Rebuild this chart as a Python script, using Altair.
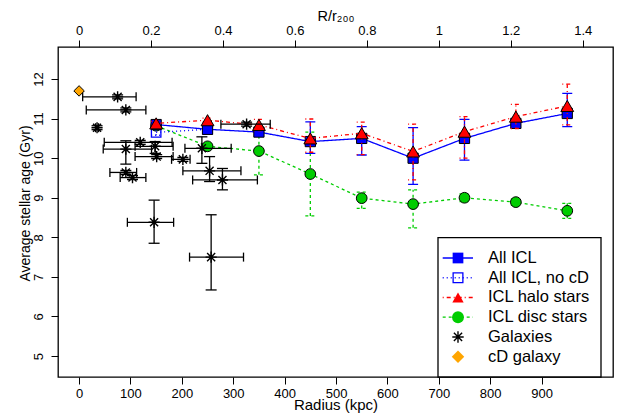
import altair as alt
import pandas as pd

# ICL radial bins (kpc) and mean stellar ages (Gyr)
radius = [150, 250, 350, 450, 550, 650, 750, 850, 950]

all_icl = [10.85, 10.73, 10.66, 10.42, 10.50, 10.00, 10.50, 10.88, 11.13]
all_icl_lo = [10.81, 10.69, 10.58, 10.12, 10.08, 9.34, 9.95, 10.78, 10.80]
all_icl_hi = [10.89, 10.77, 10.74, 10.92, 10.80, 10.77, 10.98, 10.98, 11.64]

nocd_radius = [150, 250]
nocd_age = [10.65, 10.73]
nocd_lo = [10.58, 10.69]
nocd_hi = [10.72, 10.77]

halo = [10.88, 10.96, 10.84, 10.50, 10.63, 10.17, 10.67, 11.05, 11.32]
halo_lo = [10.83, 10.91, 10.70, 10.15, 10.09, 9.45, 10.00, 10.75, 10.84]
halo_hi = [10.93, 11.01, 10.98, 10.99, 10.91, 10.86, 11.05, 11.36, 11.87]

disc = [10.82, 10.30, 10.18, 9.60, 8.99, 8.84, 9.00, 8.89, 8.67]
disc_lo = [10.77, 10.25, 9.58, 8.54, 8.73, 8.24, 8.90, 8.81, 8.48]
disc_hi = [10.87, 10.35, 10.78, 10.66, 9.14, 9.20, 9.10, 8.97, 8.86]

gal_radius = [75, 91, 35, 91, 119, 148, 151, 202, 239, 254, 279, 91, 104, 326, 146, 257]
gal_radius_lo = [7, 14, 32, 47, 49, 109, 109, 180, 206, 202, 221, 60, 80, 276, 94, 215]
gal_radius_hi = [111, 130, 38, 141, 181, 183, 183, 216, 296, 315, 347, 112, 130, 372, 184, 320]
gal_age = [11.55, 11.22, 10.77, 10.23, 10.40, 10.30, 10.04, 9.97, 10.25, 9.68, 9.45, 9.64, 9.51, 10.86, 8.38, 7.50]
gal_age_lo = [11.50, 11.17, 10.72, 9.85, 10.35, 10.12, 9.99, 9.92, 9.87, 9.41, 9.20, 9.59, 9.46, 10.81, 7.85, 6.67]
gal_age_hi = [11.60, 11.27, 10.82, 10.44, 10.45, 10.42, 10.09, 10.02, 10.54, 10.04, 9.74, 9.69, 9.56, 10.91, 8.94, 8.57]

cd_radius = [0]
cd_age = [11.70]

r200 = 700
top_ticks = [0, 0.2, 0.4, 0.6, 0.8, 1.0, 1.2, 1.4]

legend_labels = ['All ICL', 'All ICL, no cD', 'ICL halo stars', 'ICL disc stars',
                 'Galaxies', 'cD galaxy']

BLUE = '#0000FF'
RED = '#FF0000'
GREEN = '#00CD00'
ORANGE = '#FFA500'
ASTERISK = 'M-1,0H1M0,-1V1M-0.72,-0.72L0.72,0.72M-0.72,0.72L0.72,-0.72'
FONT = 'Liberation Sans'

x_scale = alt.Scale(domain=[-41, 1039], nice=False, zero=False)
y_scale = alt.Scale(domain=[4.47, 12.81], nice=False, zero=False)

x_bottom = alt.Axis(
    values=list(range(0, 1000, 100)), title='Radius (kpc)', titleFontSize=15,
    titleY=32, titleBaseline='alphabetic', labelPadding=3,
    labelFlush=False, labelOverlap=False
)
x_top = alt.Axis(
    orient='top', values=[t * r200 for t in top_ticks],
    labelExpr="format(datum.value / %d, '~g')" % r200,
    title='R/r₂₀₀', titleFontSize=14.5, titleY=-27, titleBaseline='alphabetic',
    labelPadding=3, labelFlush=False, labelOverlap=False
)
y_left = alt.Axis(
    values=list(range(5, 13)), title='Average stellar age (Gyr)', titleFontSize=14,
    labelAngle=270, labelAlign='center', labelBaseline='bottom', labelPadding=6,
    titleAngle=270, titleX=-29, titleY=156, titleAlign='center',
    titleBaseline='alphabetic', labelOverlap=False
)


def frame(r, a, lo, hi):
    return pd.DataFrame({'radius': r, 'age': a, 'lo': lo, 'hi': hi})


def series(df, color, dash, shape, size, xaxis=None, yaxis=None, open_marker=False):
    X = alt.X('radius:Q', scale=x_scale, axis=xaxis)
    Y = alt.Y('age:Q', scale=y_scale, axis=yaxis)
    base = alt.Chart(df)
    bars = base.mark_rule(color=color, strokeDash=dash, strokeWidth=1.3).encode(
        x=alt.X('radius:Q', scale=x_scale, axis=None),
        y=alt.Y('lo:Q', scale=y_scale, axis=None), y2='hi:Q'
    )
    caps = [
        base.mark_rule(color=color, strokeDash=dash, strokeWidth=1.3,
                       xOffset=-5, x2Offset=5).encode(
            x=alt.X('radius:Q', scale=x_scale, axis=None), x2='radius:Q',
            y=alt.Y(f'{f}:Q', scale=y_scale, axis=None)
        )
        for f in ('lo', 'hi')
    ]
    line = base.mark_line(color=color, strokeDash=dash, strokeWidth=1.3).encode(x=X, y=Y)
    if open_marker:
        pts = base.mark_point(shape=shape, filled=False, stroke=color, strokeWidth=1.3,
                              size=size, opacity=1)
    else:
        pts = base.mark_point(shape=shape, filled=True, fill=color, stroke='black',
                              strokeWidth=1, size=size, opacity=1)
    pts = pts.encode(x=alt.X('radius:Q', scale=x_scale, axis=None),
                     y=alt.Y('age:Q', scale=y_scale, axis=None))
    return [bars] + caps + [line, pts]


disc_layers = series(frame(radius, disc, disc_lo, disc_hi), GREEN, [3, 3], 'circle', 115,
                     xaxis=x_bottom, yaxis=y_left)
nocd_layers = series(frame(nocd_radius, nocd_age, nocd_lo, nocd_hi), BLUE, [1, 3], 'square',
                     90, open_marker=True)
all_layers = series(frame(radius, all_icl, all_icl_lo, all_icl_hi), BLUE, [1, 0], 'square', 105)
halo_layers = series(frame(radius, halo, halo_lo, halo_hi), RED, [1, 3, 4, 3], 'triangle-up', 165,
                     xaxis=x_top)

gal = pd.DataFrame({
    'radius': gal_radius, 'rlo': gal_radius_lo, 'rhi': gal_radius_hi,
    'age': gal_age, 'alo': gal_age_lo, 'ahi': gal_age_hi,
})
gbase = alt.Chart(gal)
GX = lambda f: alt.X(f'{f}:Q', scale=x_scale, axis=None)
GY = lambda f: alt.Y(f'{f}:Q', scale=y_scale, axis=None)
gal_layers = [
    gbase.mark_rule(color='black', strokeWidth=1.3).encode(x=GX('rlo'), x2='rhi:Q', y=GY('age')),
    gbase.mark_rule(color='black', strokeWidth=1.3).encode(x=GX('radius'), y=GY('alo'), y2='ahi:Q'),
]
for f in ('rlo', 'rhi'):
    gal_layers.append(
        gbase.mark_rule(color='black', strokeWidth=1.3, yOffset=-4.5, y2Offset=4.5).encode(
            x=GX(f), y=GY('age'), y2='age:Q'))
for f in ('alo', 'ahi'):
    gal_layers.append(
        gbase.mark_rule(color='black', strokeWidth=1.3, xOffset=-5.5, x2Offset=5.5).encode(
            x=GX('radius'), x2='radius:Q', y=GY(f)))
gal_layers.append(
    gbase.mark_point(shape=ASTERISK, filled=False, stroke='black', strokeWidth=1.4,
                     size=125, opacity=1).encode(x=GX('radius'), y=GY('age')))

cd = pd.DataFrame({'radius': cd_radius, 'age': cd_age})
cd_layer = alt.Chart(cd).mark_point(shape='diamond', filled=True, fill=ORANGE, stroke='black',
                                    strokeWidth=1, size=110, opacity=1).encode(
    x=GX('radius'), y=GY('age'))

main = alt.layer(
    *disc_layers, *nocd_layers, *all_layers, *halo_layers, *gal_layers, cd_layer
).resolve_axis(x='independent', y='independent')

# legend drawn by hand, in the same style as R's legend()
leg = pd.DataFrame({'label': legend_labels})
lbase = alt.Chart(leg)
LY = alt.Y('label:N', axis=None,
           scale=alt.Scale(type='point', domain=legend_labels, range=[211, 309.7], padding=0))
LCOLOR = alt.Color('label:N', legend=None,
                   scale=alt.Scale(domain=legend_labels,
                                   range=[BLUE, BLUE, RED, GREEN, 'black', ORANGE]))
line_labels = legend_labels[:4]
box = alt.Chart(leg.head(1)).mark_rect(fill='white', stroke='black', strokeWidth=1.3).encode(
    x=alt.value(380), x2=alt.value(543), y=alt.value(190.7), y2=alt.value(330))
leg_lines = lbase.transform_filter(
    alt.FieldOneOfPredicate(field='label', oneOf=line_labels)
).mark_rule(strokeWidth=1.3).encode(
    x=alt.value(384.7), x2=alt.value(415), y=LY, color=LCOLOR,
    strokeDash=alt.StrokeDash('label:N', legend=None,
                              scale=alt.Scale(domain=line_labels,
                                              range=[[1, 0], [1, 3], [1, 3, 4, 3], [3, 3]])),
)
filled_labels = ['All ICL', 'ICL halo stars', 'ICL disc stars', 'cD galaxy']
leg_filled = lbase.transform_filter(
    alt.FieldOneOfPredicate(field='label', oneOf=filled_labels)
).mark_point(filled=True, opacity=1).encode(
    x=alt.value(400), y=LY, color=LCOLOR,
    shape=alt.Shape('label:N', legend=None,
                    scale=alt.Scale(domain=filled_labels,
                                    range=['square', 'triangle-up', 'circle', 'diamond'])),
    size=alt.Size('label:N', legend=None,
                  scale=alt.Scale(domain=filled_labels, range=[115, 155, 115, 85])),
)
leg_open = lbase.transform_filter(alt.datum.label == 'All ICL, no cD').mark_point(
    shape='square', filled=False, stroke=BLUE, strokeWidth=1.3, size=95, opacity=1
).encode(x=alt.value(400), y=LY)
leg_star = lbase.transform_filter(alt.datum.label == 'Galaxies').mark_point(
    shape=ASTERISK, filled=False, stroke='black', strokeWidth=1.4, size=130, opacity=1
).encode(x=alt.value(400), y=LY)
leg_text = lbase.mark_text(align='left', baseline='middle', font=FONT, fontSize=16.5,
                           color='black').encode(x=alt.value(430), y=LY, text='label:N')

legend = alt.layer(box, leg_lines, leg_filled, leg_open, leg_star, leg_text)

chart = alt.layer(main, legend).resolve_scale(
    y='independent', color='independent', shape='independent', size='independent',
    strokeDash='independent'
).properties(
    width=555, height=330,
    autosize=alt.AutoSizeParams(type='none'),
    padding={'left': 50, 'top': 39, 'right': 1, 'bottom': 38},
).configure_axis(
    domain=False, grid=False, tickColor='black', tickSize=7, tickWidth=1,
    labelFont=FONT, labelFontSize=13, labelColor='black',
    titleFont=FONT, titleFontWeight='normal', titleColor='black'
).configure_view(
    stroke='black', strokeWidth=1.3
)

chart.save('out.html', embed_options={'renderer': 'svg', 'actions': False})
